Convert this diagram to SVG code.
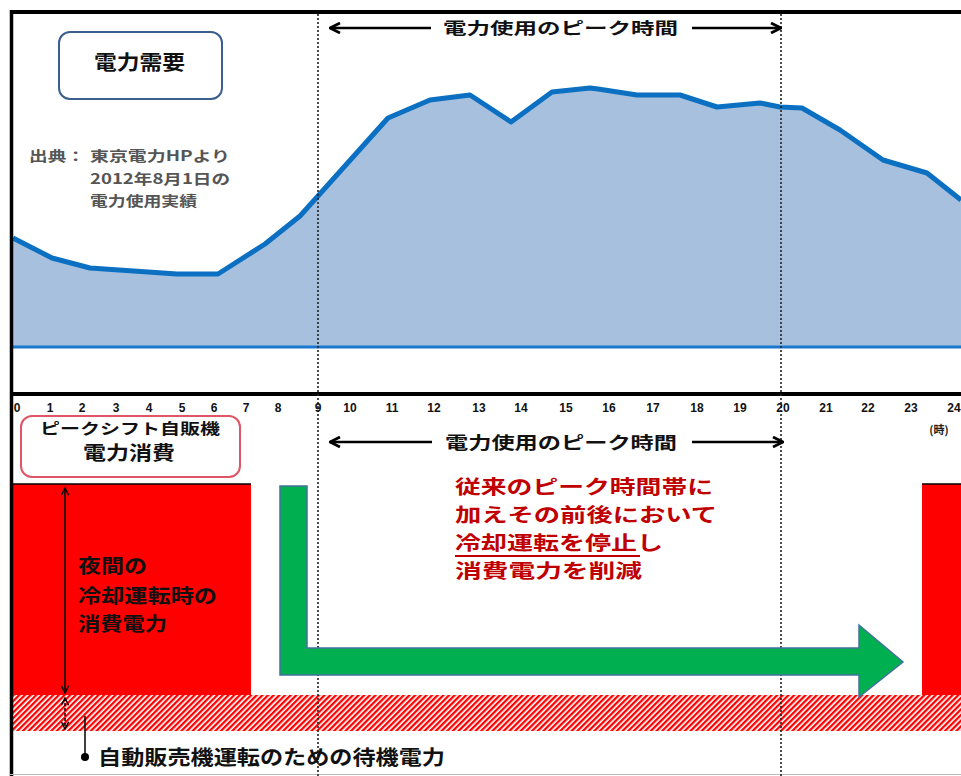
<svg xmlns="http://www.w3.org/2000/svg" width="961" height="776" viewBox="0 0 961 776">
<style>
.jp{font-family:"Noto Sans CJK JP","Noto Sans",sans-serif;font-weight:bold;}
.ax{font-family:"Liberation Sans",Arial,sans-serif;font-weight:bold;font-size:12px;fill:#111;text-anchor:middle;}
.dot{stroke:#222;stroke-width:1.6;stroke-dasharray:2 2;fill:none;}
.arr{stroke:#000;stroke-width:2.5;fill:none;}
</style>
<defs>
<pattern id="hatch" width="4" height="4" patternUnits="userSpaceOnUse" patternTransform="rotate(45)">
<rect width="4" height="4" fill="#fff"/><rect width="2.3" height="4" fill="#f00"/>
</pattern>
<marker id="ah" viewBox="0 0 10 10" refX="9" refY="5" markerWidth="5" markerHeight="5" orient="auto-start-reverse" markerUnits="strokeWidth">
<path d="M1,1 L9,5 L1,9" fill="none" stroke="#000" stroke-width="2.2"/>
</marker>
<marker id="ah2" viewBox="0 0 10 10" refX="9" refY="5" markerWidth="6" markerHeight="6" orient="auto-start-reverse" markerUnits="strokeWidth">
<path d="M1,1 L9,5 L1,9" fill="none" stroke="#000" stroke-width="1.6"/>
</marker>
</defs>
<rect width="961" height="776" fill="#fff"/>

<g id="demand-chart">
<path d="M13,238 L52,258 L90,268 L177,274 L218,274 L265,244 L300,216 L318,196 L388,118 L430,100 L470,95 L511,122 L552,92 L590,88 L598,89 L637,95 L680,95 L717,107 L760,103 L780,107 L802,108 L840,130 L883,160 L927,173 L961,200 L961,347 L13,347 Z" fill="#a7c0de"/>
<path d="M13,238 L52,258 L90,268 L177,274 L218,274 L265,244 L300,216 L318,196 L388,118 L430,100 L470,95 L511,122 L552,92 L590,88 L598,89 L637,95 L680,95 L717,107 L760,103 L780,107 L802,108 L840,130 L883,160 L927,173 L961,200" fill="none" stroke="#0b6fc2" stroke-width="5" stroke-linejoin="round"/>
<line x1="13" y1="347" x2="961" y2="347" stroke="#1a78d0" stroke-width="3"/>
</g>

<g id="standby-band">
<rect x="13" y="695" width="948" height="36" fill="url(#hatch)"/>
</g>
<g id="red-left">
<rect x="13" y="484" width="238" height="211" fill="#f00"/>
<line x1="13" y1="484" x2="251" y2="484" stroke="#000" stroke-width="1.5"/>
</g>
<g id="red-right">
<rect x="922" y="484" width="39" height="211" fill="#f00"/>
<line x1="922" y1="484" x2="961" y2="484" stroke="#000" stroke-width="1.5"/>
</g>

<g id="frame">
<line x1="11.5" y1="10" x2="11.5" y2="776" stroke="#000" stroke-width="3.5"/>
<line x1="10" y1="12" x2="961" y2="12" stroke="#000" stroke-width="4"/>
<line x1="10" y1="394" x2="961" y2="394" stroke="#000" stroke-width="4"/>
<line x1="10" y1="774.5" x2="961" y2="774.5" stroke="#bbb" stroke-width="1"/>
</g>

<g id="peak-lines">
<line class="dot" x1="318" y1="14" x2="318" y2="776"/>
<line class="dot" x1="781" y1="14" x2="781" y2="776"/>
</g>

<g id="axis">
<text class="ax" x="17" y="412">0</text>
<text class="ax" x="50" y="412">1</text>
<text class="ax" x="82" y="412">2</text>
<text class="ax" x="116" y="412">3</text>
<text class="ax" x="149" y="412">4</text>
<text class="ax" x="182" y="412">5</text>
<text class="ax" x="214" y="412">6</text>
<text class="ax" x="246" y="412">7</text>
<text class="ax" x="278" y="412">8</text>
<text class="ax" x="318" y="412">9</text>
<text class="ax" x="350" y="412">10</text>
<text class="ax" x="392" y="412">11</text>
<text class="ax" x="434" y="412">12</text>
<text class="ax" x="479" y="412">13</text>
<text class="ax" x="521" y="412">14</text>
<text class="ax" x="566" y="412">15</text>
<text class="ax" x="609" y="412">16</text>
<text class="ax" x="653" y="412">17</text>
<text class="ax" x="697" y="412">18</text>
<text class="ax" x="740" y="412">19</text>
<text class="ax" x="783" y="412">20</text>
<text class="ax" x="826" y="412">21</text>
<text class="ax" x="868" y="412">22</text>
<text class="ax" x="911" y="412">23</text>
<text class="ax" x="954" y="412">24</text>
<text class="jp" x="939" y="434" font-size="11" fill="#222" text-anchor="middle" font-weight="normal">(時)</text>
</g>

<g id="demand-label">
<rect x="59" y="32" width="163" height="67" rx="11" fill="#fff" stroke="#3a5f8e" stroke-width="2"/>
<text class="jp" x="94" y="70" font-size="20" fill="#111" textLength="91" lengthAdjust="spacingAndGlyphs">電力需要</text>
</g>

<g id="source">
<text class="jp" x="29" y="161" font-size="14" fill="#555" font-weight="normal" textLength="56" lengthAdjust="spacingAndGlyphs">出典：</text>
<text class="jp" x="90" y="161" font-size="14" fill="#555" font-weight="normal" textLength="140" lengthAdjust="spacingAndGlyphs">東京電力HPより</text>
<text class="jp" x="90" y="184" font-size="14" fill="#555" font-weight="normal" textLength="140" lengthAdjust="spacingAndGlyphs">2012年8月1日の</text>
<text class="jp" x="90" y="206" font-size="14" fill="#555" font-weight="normal" textLength="107" lengthAdjust="spacingAndGlyphs">電力使用実績</text>
</g>

<g id="peak-top">
<line class="arr" x1="330" y1="28" x2="431" y2="28" marker-start="url(#ah)"/>
<line class="arr" x1="692" y1="28" x2="781" y2="28" marker-end="url(#ah)"/>
<text class="jp" x="443" y="34" font-size="16" fill="#111" textLength="235" lengthAdjust="spacingAndGlyphs">電力使用のピーク時間</text>
</g>

<g id="vending-label">
<rect x="21" y="416" width="219" height="61" rx="11" fill="#fff" stroke="#e05565" stroke-width="2"/>
<text class="jp" x="40" y="434" font-size="15" fill="#111" textLength="180" lengthAdjust="spacingAndGlyphs">ピークシフト自販機</text>
<text class="jp" x="83" y="460" font-size="19" fill="#111" textLength="92" lengthAdjust="spacingAndGlyphs">電力消費</text>
</g>

<g id="peak-bottom">
<line class="arr" x1="330" y1="442" x2="432" y2="442" marker-start="url(#ah)"/>
<line class="arr" x1="692" y1="442" x2="783" y2="442" marker-end="url(#ah)"/>
<text class="jp" x="445" y="449" font-size="17" fill="#111" textLength="232" lengthAdjust="spacingAndGlyphs">電力使用のピーク時間</text>
</g>

<g id="shift-arrow">
<path d="M280,486 L307,486 L307,648 L859,648 L859,625 L903,662 L859,697 L859,675 L280,675 Z" fill="#00b050" stroke="#41719c" stroke-width="1.5"/>
</g>

<g id="red-note">
<text class="jp" x="455" y="494" font-size="19" fill="#c00000" textLength="258" lengthAdjust="spacingAndGlyphs">従来のピーク時間帯に</text>
<text class="jp" x="455" y="522" font-size="19" fill="#c00000" textLength="262" lengthAdjust="spacingAndGlyphs">加えその前後において</text>
<text class="jp" x="455" y="550" font-size="19" fill="#c00000" textLength="208" lengthAdjust="spacingAndGlyphs">冷却運転を停止し</text>
<text class="jp" x="455" y="578" font-size="19" fill="#c00000" textLength="187" lengthAdjust="spacingAndGlyphs">消費電力を削減</text>
<line x1="455" y1="556" x2="640" y2="556" stroke="#c00000" stroke-width="2"/>
</g>

<g id="night-label">
<text class="jp" x="78" y="573" font-size="19" fill="#111" textLength="69" lengthAdjust="spacingAndGlyphs">夜間の</text>
<text class="jp" x="78" y="603" font-size="19" fill="#111" textLength="139" lengthAdjust="spacingAndGlyphs">冷却運転時の</text>
<text class="jp" x="78" y="631" font-size="19" fill="#111" textLength="89" lengthAdjust="spacingAndGlyphs">消費電力</text>
</g>

<g id="connectors">
<line x1="65" y1="488" x2="65" y2="693" stroke="#000" stroke-width="1.5" marker-start="url(#ah2)" marker-end="url(#ah2)"/>
<line x1="65" y1="698" x2="65" y2="729" stroke="#000" stroke-width="1.5" stroke-dasharray="3 2" marker-start="url(#ah2)" marker-end="url(#ah2)"/>
<line x1="85" y1="716" x2="85" y2="757" stroke="#000" stroke-width="1.5"/>
<circle cx="85" cy="757" r="4" fill="#000"/>
</g>

<g id="standby-label">
<text class="jp" x="98" y="765" font-size="20" fill="#111" textLength="347" lengthAdjust="spacingAndGlyphs">自動販売機運転のための待機電力</text>
</g>
</svg>
